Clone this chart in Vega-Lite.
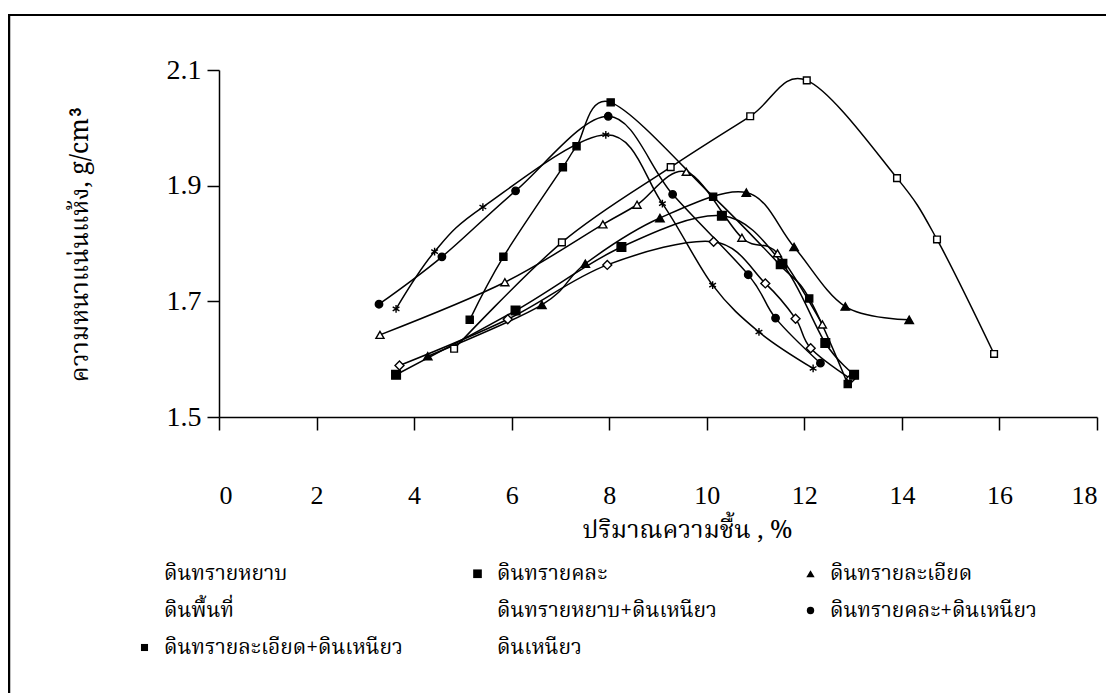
{
  "$schema": "https://vega.github.io/schema/vega-lite/v6.json",
  "width": 878,
  "height": 347,
  "autosize": "none",
  "padding": {"left": 219, "top": 70, "right": 9, "bottom": 276},
  "background": "white",
  "config": {
    "view": {"stroke": null},
    "axis": {
      "domainColor": "black",
      "domainWidth": 1.5,
      "tickColor": "black",
      "tickWidth": 1.5,
      "grid": false,
      "labelColor": "black",
      "titleColor": "black",
      "labelFont": "Liberation Serif",
      "titleFontWeight": "normal"
    },
    "legend": {
      "orient": "none",
      "legendX": -85,
      "legendY": 493,
      "direction": "horizontal",
      "columns": 3,
      "gridAlign": "all",
      "columnPadding": 64,
      "rowPadding": 15,
      "symbolSize": 900,
      "symbolStrokeColor": "black",
      "symbolStrokeWidth": 1.5,
      "labelFont": "Noto Serif Thai, Noto Sans Thai, Loma, Norasi, Garuda, serif",
      "labelFontSize": 21,
      "labelColor": "black",
      "labelOffset": 9,
      "labelLimit": 400
    }
  },
  "data": {
    "values": [
      {"s": "ดินทรายหยาบ", "x": 3.70, "y": 1.589},
      {"s": "ดินทรายหยาบ", "x": 5.92, "y": 1.669},
      {"s": "ดินทรายหยาบ", "x": 7.96, "y": 1.763},
      {"s": "ดินทรายหยาบ", "x": 10.14, "y": 1.803},
      {"s": "ดินทรายหยาบ", "x": 11.20, "y": 1.731},
      {"s": "ดินทรายหยาบ", "x": 11.82, "y": 1.670},
      {"s": "ดินทรายหยาบ", "x": 12.13, "y": 1.619},
      {"s": "ดินทรายหยาบ", "x": 12.95, "y": 1.566},

      {"s": "ดินทรายคละ", "x": 3.63, "y": 1.573},
      {"s": "ดินทรายคละ", "x": 6.08, "y": 1.684},
      {"s": "ดินทรายคละ", "x": 8.25, "y": 1.794},
      {"s": "ดินทรายคละ", "x": 10.31, "y": 1.848},
      {"s": "ดินทรายคละ", "x": 11.55, "y": 1.765},
      {"s": "ดินทรายคละ", "x": 12.43, "y": 1.628},
      {"s": "ดินทรายคละ", "x": 13.02, "y": 1.573},

      {"s": "ดินทรายละเอียด", "x": 4.28, "y": 1.605},
      {"s": "ดินทรายละเอียด", "x": 6.62, "y": 1.694},
      {"s": "ดินทรายละเอียด", "x": 7.51, "y": 1.765},
      {"s": "ดินทรายละเอียด", "x": 9.04, "y": 1.844},
      {"s": "ดินทรายละเอียด", "x": 10.81, "y": 1.888},
      {"s": "ดินทรายละเอียด", "x": 11.79, "y": 1.794},
      {"s": "ดินทรายละเอียด", "x": 12.84, "y": 1.691},
      {"s": "ดินทรายละเอียด", "x": 14.15, "y": 1.668},

      {"s": "ดินพื้นที่", "x": 3.30, "y": 1.642},
      {"s": "ดินพื้นที่", "x": 5.86, "y": 1.733},
      {"s": "ดินพื้นที่", "x": 7.87, "y": 1.833},
      {"s": "ดินพื้นที่", "x": 8.57, "y": 1.867},
      {"s": "ดินพื้นที่", "x": 9.58, "y": 1.924},
      {"s": "ดินพื้นที่", "x": 10.72, "y": 1.810},
      {"s": "ดินพื้นที่", "x": 11.45, "y": 1.783},
      {"s": "ดินพื้นที่", "x": 12.37, "y": 1.660},

      {"s": "ดินทรายหยาบ+ดินเหนียว", "x": 3.63, "y": 1.687},
      {"s": "ดินทรายหยาบ+ดินเหนียว", "x": 4.42, "y": 1.786},
      {"s": "ดินทรายหยาบ+ดินเหนียว", "x": 5.41, "y": 1.863},
      {"s": "ดินทรายหยาบ+ดินเหนียว", "x": 7.93, "y": 1.988},
      {"s": "ดินทรายหยาบ+ดินเหนียว", "x": 9.09, "y": 1.869},
      {"s": "ดินทรายหยาบ+ดินเหนียว", "x": 10.12, "y": 1.728},
      {"s": "ดินทรายหยาบ+ดินเหนียว", "x": 11.07, "y": 1.647},
      {"s": "ดินทรายหยาบ+ดินเหนียว", "x": 12.18, "y": 1.584},

      {"s": "ดินทรายคละ+ดินเหนียว", "x": 3.28, "y": 1.695},
      {"s": "ดินทรายคละ+ดินเหนียว", "x": 4.57, "y": 1.777},
      {"s": "ดินทรายคละ+ดินเหนียว", "x": 6.08, "y": 1.891},
      {"s": "ดินทรายคละ+ดินเหนียว", "x": 7.98, "y": 2.020},
      {"s": "ดินทรายคละ+ดินเหนียว", "x": 9.30, "y": 1.885},
      {"s": "ดินทรายคละ+ดินเหนียว", "x": 10.85, "y": 1.746},
      {"s": "ดินทรายคละ+ดินเหนียว", "x": 11.41, "y": 1.671},
      {"s": "ดินทรายคละ+ดินเหนียว", "x": 12.33, "y": 1.593},

      {"s": "ดินทรายละเอียด+ดินเหนียว", "x": 5.14, "y": 1.668},
      {"s": "ดินทรายละเอียด+ดินเหนียว", "x": 5.83, "y": 1.777},
      {"s": "ดินทรายละเอียด+ดินเหนียว", "x": 7.05, "y": 1.932},
      {"s": "ดินทรายละเอียด+ดินเหนียว", "x": 7.33, "y": 1.968},
      {"s": "ดินทรายละเอียด+ดินเหนียว", "x": 8.03, "y": 2.044},
      {"s": "ดินทรายละเอียด+ดินเหนียว", "x": 10.13, "y": 1.881},
      {"s": "ดินทรายละเอียด+ดินเหนียว", "x": 11.50, "y": 1.763},
      {"s": "ดินทรายละเอียด+ดินเหนียว", "x": 12.10, "y": 1.705},
      {"s": "ดินทรายละเอียด+ดินเหนียว", "x": 12.89, "y": 1.557},

      {"s": "ดินเหนียว", "x": 4.82, "y": 1.618},
      {"s": "ดินเหนียว", "x": 7.03, "y": 1.802},
      {"s": "ดินเหนียว", "x": 9.26, "y": 1.932},
      {"s": "ดินเหนียว", "x": 10.89, "y": 2.020},
      {"s": "ดินเหนียว", "x": 12.05, "y": 2.082},
      {"s": "ดินเหนียว", "x": 13.90, "y": 1.913},
      {"s": "ดินเหนียว", "x": 14.72, "y": 1.807},
      {"s": "ดินเหนียว", "x": 15.89, "y": 1.609}
    ]
  },
  "encoding": {
    "x": {
      "field": "x",
      "type": "quantitative",
      "scale": {"domain": [0, 18], "nice": false, "zero": false},
      "axis": {
        "values": [0, 2, 4, 6, 8, 10, 12, 14, 16, 18],
        "tickSize": 13,
        "labelPadding": 52,
        "labelFontSize": 26,
        "labelFont": "Liberation Serif",
        "title": "ปริมาณความชื้น , %",
        "titleFont": "Noto Serif Thai, Noto Sans Thai, Loma, Norasi, Garuda, serif",
        "titleFontSize": 25,
        "titlePadding": 9,
        "titleX": 468
      }
    },
    "y": {
      "field": "y",
      "type": "quantitative",
      "scale": {"domain": [1.5, 2.1], "nice": false, "zero": false},
      "axis": {
        "values": [1.5, 1.7, 1.9, 2.1],
        "format": ".1f",
        "tickSize": 12,
        "labelPadding": 6,
        "labelFontSize": 28,
        "labelFont": "Liberation Serif",
        "title": "ความหนาแน่นแห้ง, g/cm³",
        "titleFont": "Noto Serif Thai, Noto Sans Thai, Loma, Norasi, Garuda, serif",
        "titleFontSize": 25,
        "titlePadding": 74
      }
    }
  },
  "layer": [
    {
      "mark": {"type": "rect", "filled": false, "stroke": "black", "strokeWidth": 1.5, "clip": false},
      "encoding": {
        "x": {"datum": -4.3, "type": "quantitative"},
        "x2": {"datum": 18.4},
        "y": {"datum": 2.1955, "type": "quantitative"},
        "y2": {"datum": 0.98}
      }
    },
    {
      "mark": {"type": "line", "interpolate": "cardinal", "color": "black", "strokeWidth": 1.5},
      "encoding": {"detail": {"field": "s"}}
    },
    {
      "mark": {"type": "point", "filled": true, "stroke": "black", "strokeWidth": 1.4, "opacity": 1},
      "encoding": {
        "fill": {
          "field": "s",
          "type": "nominal",
          "scale": {
            "domain": ["ดินทรายหยาบ", "ดินทรายคละ", "ดินทรายละเอียด", "ดินพื้นที่", "ดินทรายหยาบ+ดินเหนียว", "ดินทรายคละ+ดินเหนียว", "ดินทรายละเอียด+ดินเหนียว", "ดินเหนียว"],
            "range": ["white", "black", "black", "white", "black", "black", "black", "white"]
          },
          "legend": {"title": null}
        },
        "size": {
          "field": "s",
          "type": "ordinal",
          "scale": {
            "domain": ["ดินทรายหยาบ", "ดินทรายคละ", "ดินทรายละเอียด", "ดินพื้นที่", "ดินทรายหยาบ+ดินเหนียว", "ดินทรายคละ+ดินเหนียว", "ดินทรายละเอียด+ดินเหนียว", "ดินเหนียว"],
            "range": [80, 45, 35, 130, 130, 90, 45, 80]
          },
          "legend": {"title": null}
        },
        "shape": {
          "field": "s",
          "type": "nominal",
          "scale": {
            "domain": ["ดินทรายหยาบ", "ดินทรายคละ", "ดินทรายละเอียด", "ดินพื้นที่", "ดินทรายหยาบ+ดินเหนียว", "ดินทรายคละ+ดินเหนียว", "ดินทรายละเอียด+ดินเหนียว", "ดินเหนียว"],
            "range": ["diamond", "square", "triangle-up", "triangle-up", "M0,-1L0,1M-0.87,-0.5L0.87,0.5M-0.87,0.5L0.87,-0.5", "circle", "square", "square"]
          },
          "legend": {"title": null}
        }
      }
    }
  ]
}
